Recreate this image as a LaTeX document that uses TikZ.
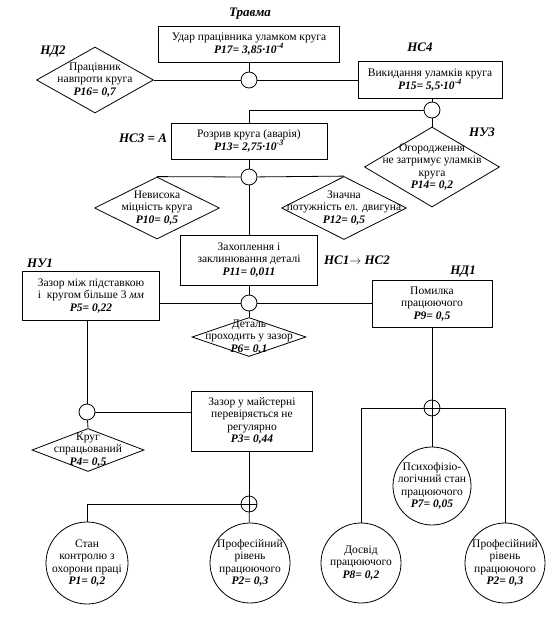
\documentclass[tikz,border=0pt]{standalone}
\usepackage{fontspec}
\setmainfont{Liberation Serif}
\usetikzlibrary{shapes.geometric}

\newcommand{\pr}[1]{\textbf{\textit{#1}}}
\tikzset{
  txt/.style={align=center, font=\fontsize{11.5}{12.3}\selectfont},
  box/.style={draw, rectangle, inner sep=0pt, txt},
  cond/.style={draw, diamond, inner sep=0pt},
  circ/.style={draw, circle, inner sep=0pt},
  tag/.style={font=\fontsize{13}{15}\selectfont\bfseries\itshape},
  andgate/.style={draw, circle, fill=white, minimum size=16, inner sep=0pt,
    path picture={\fill (path picture bounding box.center) circle (1.3pt);}},
  orgate/.style={draw, circle, fill=white, minimum size=16, inner sep=0pt,
    path picture={\draw (path picture bounding box.north) -- (path picture bounding box.south)
      (path picture bounding box.west) -- (path picture bounding box.east);}}
}

\begin{document}
\begin{tikzpicture}[x=1pt,y=-1pt,line width=0.8pt]
        \useasboundingbox (0,0) rectangle (559,624);

        % top event and first gate
        \node[tag] (trauma) at (250,14) {Травма};
        \node[box, minimum width=181, minimum height=36] (p17) at (249,44) {Удар працівника уламком круга\\\pr{P17= 3,85·10\textsuperscript{-4}}};
        \node[andgate] (g17) at (249,80) {};
        \node[cond, minimum width=117, minimum height=66] (d16) at (95,80) {};
        \node[txt] at (d16) {Працівник\\навпроти круга\\\pr{P16= 0,7}};
        \node[tag] at (53,52) {НД2};
        \node[box, minimum width=144, minimum height=37] (p15) at (430,80) {Викидання уламків круга\\\pr{P15= 5,5·10\textsuperscript{-4}}};
        \node[tag] at (420,47) {НС4};
        \node[andgate] (g15) at (432,110) {};

        % rupture of the wheel
        \node[box, minimum width=156, minimum height=36] (p13) at (249,141) {Розрив круга (аварія)\\\pr{P13= 2,75·10\textsuperscript{-3}}};
        \node[tag] at (143,138) {НС3 = А};
        \node[cond, minimum width=135, minimum height=80] (d14) at (432,167) {};
        \node[txt] at (d14) {Огородження\\не затримує уламків\\круга\\\pr{P14= 0,2}};
        \node[tag] at (482,132) {НУ3};
        \node[andgate] (g13) at (249,177) {};
        \node[cond, minimum width=125, minimum height=62] (d10) at (157,208) {};
        \node[txt] at (d10) {Невисока\\міцність круга\\\pr{P10= 0,5}};
        \node[cond, minimum width=125, minimum height=63] (d12) at (344,208) {};
        \node[txt] at (d12) {Значна\\потужність ел. двигуна\\\pr{P12= 0,5}};

        % jamming of the part
        \node[box, minimum width=137, minimum height=50] (p11) at (249,260) {Захоплення і\\заклинювання деталі\\\pr{P11= 0,011}};
        \node[tag] at (357,260) {НС1$\rightarrow$ НС2};
        \node[andgate] (g11) at (249,303) {};
        \node[box, minimum width=137, minimum height=49] (p5) at (91,296) {Зазор між підставкою\\і \ кругом більше 3 \textit{мм}\\\pr{P5= 0,22}};
        \node[tag] at (40,263) {НУ1};
        \node[box, minimum width=120, minimum height=47] (p9) at (432,304) {Помилка\\працюючого\\\pr{P9= 0,5}};
        \node[tag] at (463,272) {НД1};
        \node[cond, minimum width=114, minimum height=39] (d6) at (249,337) {};
        \node[txt] at (d6) {Деталь\\проходить у зазор\\\pr{P6= 0,1}};

        % gap branch
        \node[andgate] (g5) at (87,412) {};
        \node[cond, minimum width=112, minimum height=43] (d4) at (88,450) {};
        \node[txt] at (d4) {Круг\\спрацьований\\\pr{P4= 0,5}};
        \node[box, minimum width=121, minimum height=60] (p3) at (252,421) {Зазор у майстерні\\перевіряється не\\регулярно\\\pr{P3= 0,44}};
        \node[orgate] (g3) at (249,504) {};
        \node[circ, minimum size=82] (c1) at (87,563) {};
        \node[txt] at (c1) {Стан\\контролю з\\охорони праці\\\pr{P1= 0,2}};
        \node[circ, minimum size=80] (c2) at (250,563) {};
        \node[txt] at (c2) {Професійний\\рівень\\працюючого\\\pr{P2= 0,3}};

        % worker error branch
        \node[orgate] (g9) at (432,408) {};
        \node[circ, minimum size=78] (c7) at (432,486) {};
        \node[txt] at (c7) {Психофізіо-\\логічний стан\\працюючого\\\pr{P7= 0,05}};
        \node[circ, minimum size=80] (c8) at (361,563) {};
        \node[txt] at (c8) {Досвід\\працюючого\\\pr{P8= 0,2}};
        \node[circ, minimum size=80] (c2r) at (505,563) {};
        \node[txt] at (c2r) {Професійний\\рівень\\працюючого\\\pr{P2= 0,3}};

        % connectors
        \draw (p17) -- (g17);
        \draw (d16.east) -- (g17) -- (p15.west);
        \draw (g15) -- (g15 |- p15.south);
        \draw (g15.west) -| (p13.north);
        \draw (g15) -- (d14.north);
        \draw (p13) -- (g13);
        \draw (d10.north) -- (g13) -- (d12.north);
        \draw (g13) -- (p11);
        \draw (p11) -- (g11);
        \draw (p5.east |- g11) -- (g11) -- (p9.west |- g11);
        \draw (g11) -- (d6.north);
        \draw (g5) -- (g5 |- p5.south);
        \draw (g5) -- (d4.north);
        \draw (g5) -- (p3.west |- g5);
        \draw (p3.south -| g3) -- (g3);
        \draw (g3.west) -| (c1.north);
        \draw (g3) -- (c2);
        \draw (p9) -- (g9) -- (c7);
        \draw (c8.north) |- (g9.west);
        \draw (g9.east) -| (c2r.north);
\end{tikzpicture}
\end{document}
